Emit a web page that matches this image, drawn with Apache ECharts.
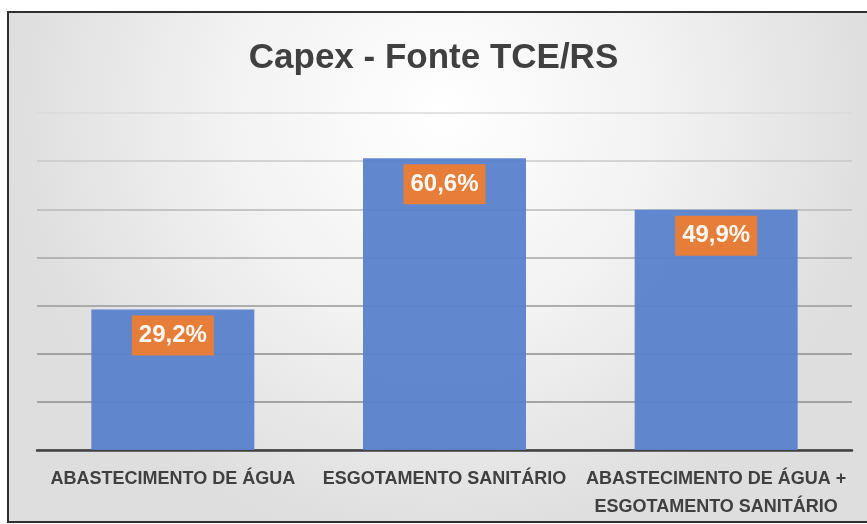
<!DOCTYPE html>
<html>
<head>
<meta charset="utf-8">
<script src="https://cdn.jsdelivr.net/npm/echarts@6/dist/echarts.min.js"></script>
<style>
  html, body { margin: 0; padding: 0; background: #ffffff; }
  #echarts { width: 867px; height: 524px; }
</style>
</head>
<body>
<div id="echarts"></div>
<script>
// categorias do eixo x
var categorias = ['ABASTECIMENTO DE ÁGUA', 'ESGOTAMENTO SANITÁRIO', 'ABASTECIMENTO DE ÁGUA +\nESGOTAMENTO SANITÁRIO'];
// valores em %
var valores = [29.2, 60.6, 49.9];
// rótulos das barras (vírgula decimal)
var rotulos = ['29,2%', '60,6%', '49,9%'];

var chart = echarts.init(document.getElementById('echarts'));

chart.setOption({
  animation: false,
  title: {
    text: 'Capex - Fonte TCE/RS',
    left: 'center',
    top: 36,
    textStyle: {
      color: '#404040',
      fontFamily: 'Liberation Sans',
      fontWeight: 'bold',
      fontSize: 35
    }
  },
  graphic: [
    {
      type: 'rect',
      z: -10,
      silent: true,
      shape: { x: 8, y: 12, width: 870, height: 510 },
      style: {
        fill: {
          type: 'radial', x: 0.5, y: 0.2, r: 0.85,
          colorStops: [
            { offset: 0, color: '#ffffff' },
            { offset: 0.5, color: '#f2f2f2' },
            { offset: 1, color: '#dedede' }
          ]
        },
        stroke: '#2f2f2f',
        lineWidth: 2
      }
    }
  ],
  grid: {
    left: 37,
    right: 15,
    top: 113,
    bottom: 74,
    containLabel: false
  },
  xAxis: {
    type: 'category',
    data: categorias,
    axisTick: { show: false },
    axisLine: { lineStyle: { color: '#404040', width: 2.5 } },
    axisLabel: {
      interval: 0,
      margin: 15,
      color: '#404040',
      fontFamily: 'Liberation Sans',
      fontWeight: 'bold',
      fontSize: 18,
      lineHeight: 28
    }
  },
  yAxis: {
    type: 'value',
    min: 0,
    max: 70,
    interval: 10,
    axisLabel: { show: false },
    axisLine: { show: false },
    axisTick: { show: false },
    splitLine: {
      lineStyle: {
        color: ['#8c8c8c', '#8c8c8c', '#8c8c8c', '#999999', '#a6a6a6', '#b8b8b8', '#c8c8c8', '#dadada'],
        width: 1.5
      }
    }
  },
  series: [
    {
      name: 'Capex',
      type: 'bar',
      data: valores,
      barWidth: '60%',
      itemStyle: { color: '#5882cc', opacity: 0.95 },
      label: {
        show: true,
        position: 'insideTop',
        distance: 6,
        formatter: function (p) { return rotulos[p.dataIndex]; },
        color: '#ffffff',
        fontFamily: 'Liberation Sans Narrow, Liberation Sans',
        fontWeight: 'bold',
        fontSize: 24,
        lineHeight: 24,
        backgroundColor: '#ed7d31',
        padding: [8, 7]
      }
    }
  ]
});
</script>
</body>
</html>
